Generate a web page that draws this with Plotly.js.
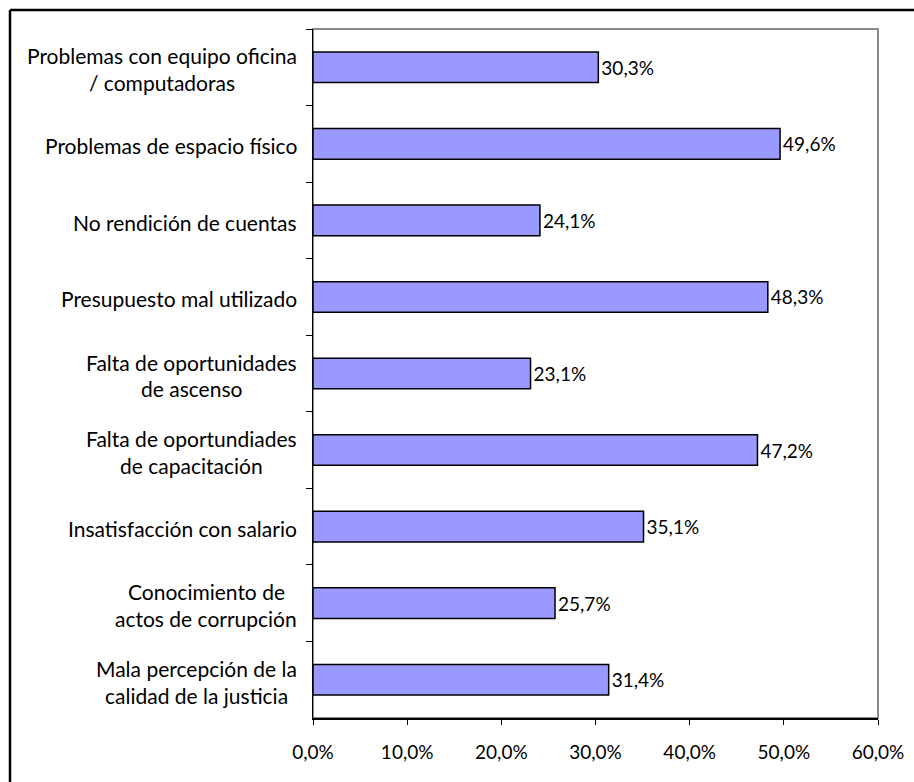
<!DOCTYPE html>
<html>
<head>
<meta charset="utf-8">
<script src="https://cdn.plot.ly/plotly-3.0.1.min.js"></script>
<style>
html,body{margin:0;padding:0;background:#fff;}
#chart{width:914px;height:782px;}
</style>
</head>
<body>
<div id="chart"></div>
<script>
// Data (top to bottom as shown)
const categories = [
  "Problemas con equipo oficina<br>/ computadoras",
  "Problemas de espacio físico",
  "No rendición de cuentas",
  "Presupuesto mal utilizado",
  "Falta de oportunidades<br>de ascenso",
  "Falta de oportundiades<br>de capacitación",
  "Insatisfacción con salario",
  "Conocimiento de<br>actos de corrupción",
  "Mala percepción de la<br>calidad de la justicia"
];
const values = [30.3, 49.6, 24.1, 48.3, 23.1, 47.2, 35.1, 25.7, 31.4];
const xTickVals = [0, 10, 20, 30, 40, 50, 60];
const xTickText = ["0,0%", "10,0%", "20,0%", "30,0%", "40,0%", "50,0%", "60,0%"];

const FONT = "Lato, 'Open Sans', sans-serif";
const CAT_SIZE = 21;
const NUM_SIZE = 19;
const W = 914, H = 782;
const M = {l: 313, r: 36, t: 29, b: 64};
const pw = W - M.l - M.r, ph = H - M.t - M.b;
const px2x = p => (p - M.l) / pw;
const py2y = p => (H - M.b - p) / ph;

const trace = {
  type: "bar",
  orientation: "h",
  x: values,
  y: categories,
  marker: {color: "#9999FF", line: {color: "#000000", width: 1.5}},
  width: 0.4,
  texttemplate: "%{x:.1f}%",
  textposition: "outside",
  cliponaxis: false,
  textfont: {family: FONT, size: NUM_SIZE, color: "#000"},
  hoverinfo: "skip"
};

// category labels as centered multi-line annotations
const LINE = 26.7;
const measure = document.createElement("canvas").getContext("2d");
measure.font = CAT_SIZE + "px Lato";
const annotations = [];
categories.forEach(c => {
  const lines = c.split("<br>");
  const n = lines.length;
  const maxW = Math.max(...lines.map(l => measure.measureText(l).width));
  lines.forEach((ln, i) => {
    annotations.push({
      xref: "paper", yref: "y",
      x: px2x(297 - maxW / 2), y: c,
      xanchor: "center", yanchor: "middle",
      text: ln, showarrow: false,
      font: {family: FONT, size: CAT_SIZE, color: "#000"},
      yshift: -((i - (n - 1) / 2) * LINE) - 2
    });
  });
});

const layout = {
  width: W, height: H,
  margin: M,
  paper_bgcolor: "#ffffff",
  plot_bgcolor: "#ffffff",
  showlegend: false,
  separators: ",.",
  font: {family: FONT, size: NUM_SIZE, color: "#000"},
  xaxis: {
    range: [0, 60],
    tickmode: "array",
    tickvals: xTickVals,
    ticktext: xTickText,
    showgrid: false,
    zeroline: false,
    showline: true,
    linecolor: "#000",
    linewidth: 1.5,
    ticks: "outside",
    ticklen: 5,
    tickcolor: "#000",
    tickwidth: 1,
    ticklabelstandoff: 12,
    tickfont: {family: FONT, size: NUM_SIZE, color: "#000"},
    fixedrange: true
  },
  yaxis: {
    type: "category",
    categoryorder: "array",
    categoryarray: categories,
    autorange: "reversed",
    showgrid: false,
    zeroline: false,
    showline: true,
    linecolor: "#000",
    linewidth: 1.5,
    ticks: "outside",
    tickson: "boundaries",
    ticklen: 6,
    tickcolor: "#000",
    tickwidth: 1,
    showticklabels: false,
    fixedrange: true
  },
  bargap: 0.6,
  annotations: annotations,
  shapes: [
    {type: "rect", xref: "paper", yref: "paper", x0: 0, x1: 1, y0: 0, y1: 1,
     line: {color: "#8a8a8a", width: 2}, layer: "below"},
    {type: "line", xref: "paper", yref: "paper", x0: px2x(10), x1: px2x(930), y0: py2y(10), y1: py2y(10),
     line: {color: "#000", width: 2.5}},
    {type: "line", xref: "paper", yref: "paper", x0: px2x(10), x1: px2x(10), y0: py2y(10), y1: py2y(800),
     line: {color: "#000", width: 2.5}}
  ]
};

Plotly.newPlot("chart", [trace], layout, {displayModeBar: false, staticPlot: true});
</script>
</body>
</html>
